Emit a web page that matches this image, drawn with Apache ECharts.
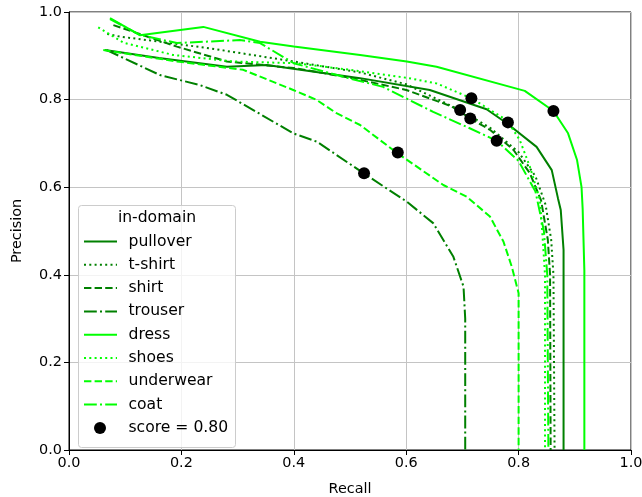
<!DOCTYPE html>
<html><head><meta charset="utf-8">
<script src="https://cdn.jsdelivr.net/npm/echarts@6/dist/echarts.min.js"></script>
<style>html,body{margin:0;padding:0;background:#fff;overflow:hidden}#c{width:642px;height:497px}</style>
</head><body><div id="c"></div>
<script>
const xTicks = [0, 0.2, 0.4, 0.6, 0.8, 1.0];
const yTicks = [0, 0.2, 0.4, 0.6, 0.8, 1.0];
const names = ['pullover','t-shirt','shirt','trouser','dress','shoes','underwear','coat'];
const legendTitle = 'in-domain';
const scoreLabel = 'score = 0.80';
const pullover = [[0.064,0.913],[0.16,0.895],[0.281,0.875],[0.352,0.879],[0.518,0.849],[0.642,0.822],[0.743,0.778],[0.779,0.746],[0.832,0.692],[0.859,0.639],[0.87,0.575],[0.875,0.548],[0.88,0.457],[0.88,0]];
const tshirt = [[0.068,0.95],[0.09,0.944],[0.162,0.932],[0.251,0.917],[0.4,0.887],[0.518,0.862],[0.6,0.835],[0.696,0.776],[0.75,0.735],[0.8,0.68],[0.83,0.625],[0.848,0.56],[0.858,0.48],[0.862,0.40],[0.864,0]];
const shirt = [[0.079,0.97],[0.192,0.921],[0.281,0.887],[0.4,0.872],[0.5,0.85],[0.6,0.822],[0.68,0.785],[0.714,0.757],[0.749,0.731],[0.791,0.685],[0.82,0.632],[0.84,0.57],[0.852,0.48],[0.856,0.40],[0.857,0]];
const trouser = [[0.067,0.913],[0.162,0.856],[0.233,0.833],[0.281,0.811],[0.399,0.723],[0.441,0.704],[0.524,0.632],[0.601,0.567],[0.648,0.518],[0.684,0.441],[0.702,0.373],[0.705,0.3],[0.705,0]];
const dress = [[0.073,0.986],[0.126,0.947],[0.239,0.966],[0.34,0.932],[0.40,0.921],[0.518,0.902],[0.601,0.887],[0.654,0.875],[0.811,0.82],[0.862,0.774],[0.888,0.723],[0.904,0.662],[0.912,0.60],[0.914,0.55],[0.917,0.41],[0.917,0]];
const shoes = [[0.052,0.965],[0.097,0.93],[0.185,0.902],[0.292,0.887],[0.405,0.883],[0.5,0.868],[0.6,0.85],[0.654,0.837],[0.716,0.803],[0.779,0.753],[0.802,0.708],[0.82,0.647],[0.838,0.571],[0.843,0.48],[0.847,0.40],[0.847,0]];
const underwear = [[0.061,0.913],[0.192,0.887],[0.31,0.868],[0.399,0.822],[0.441,0.799],[0.476,0.769],[0.518,0.742],[0.585,0.677],[0.666,0.605],[0.708,0.578],[0.749,0.533],[0.773,0.476],[0.788,0.418],[0.8,0.358],[0.8,0]];
const coat = [[0.073,0.984],[0.126,0.948],[0.192,0.929],[0.304,0.936],[0.34,0.929],[0.4,0.883],[0.5,0.848],[0.559,0.829],[0.648,0.772],[0.714,0.734],[0.761,0.706],[0.8,0.66],[0.83,0.59],[0.845,0.5],[0.851,0.40],[0.853,0]];
const scoreDots = [[0.862,0.774],[0.716,0.803],[0.781,0.748],[0.696,0.776],[0.714,0.757],[0.761,0.706],[0.585,0.679],[0.525,0.632]];

const curves = [pullover, tshirt, shirt, trouser, dress, shoes, underwear, coat];
const DARK = '#008000', LIME = '#00ff00';
const colors = [DARK, DARK, DARK, DARK, LIME, LIME, LIME, LIME];
const dashes = ['solid', [2,3.3], [7.4,3.2], [12.8,3.2,2,3.2], 'solid', [2,3.3], [7.4,3.2], [12.8,3.2,2,3.2]];
const FONT = 'DejaVu Sans';
const FS = 14.4;
const LFS = 15.6;

const series = curves.map((d, i) => ({
  name: names[i], type: 'line', data: d, symbol: 'none', showSymbol: false,
  lineStyle: { color: colors[i], width: 2, type: dashes[i] },
  itemStyle: { color: colors[i] }, z: 2 + i, animation: false
}));
series.push({
  name: scoreLabel, type: 'scatter', data: scoreDots, symbol: 'circle', symbolSize: 12,
  itemStyle: { color: '#000', opacity: 1 }, z: 20, animation: false
});

// manual legend (matplotlib style)
const legX = 78.5, legY = 205.5, legW = 157, legH = 242;
const rowY0 = 241.5, rowStep = 23.3;
const lfont = LFS + 'px "DejaVu Sans"';
const graphics = [
  { type: 'rect', shape: { x: legX, y: legY, width: legW, height: legH, r: 3 }, style: { fill: 'rgba(255,255,255,0.8)', stroke: '#cccccc', lineWidth: 1 }, z: 25 },
  { type: 'text', x: legX + legW / 2, y: 218, style: { text: legendTitle, font: lfont, fill: '#000', textAlign: 'center', textVerticalAlign: 'middle' }, z: 30 }
];
names.forEach((n, i) => {
  const y = rowY0 + i * rowStep;
  graphics.push({ type: 'line', shape: { x1: 84, y1: y, x2: 117, y2: y }, style: { stroke: colors[i], lineWidth: 2, lineDash: dashes[i] === 'solid' ? null : dashes[i] }, z: 30 });
  graphics.push({ type: 'text', x: 128.5, y: y, style: { text: n, font: lfont, fill: '#000', textVerticalAlign: 'middle' }, z: 30 });
});
{
  const y = rowY0 + 8 * rowStep;
  graphics.push({ type: 'circle', shape: { cx: 100, cy: y, r: 6 }, style: { fill: '#000' }, z: 30 });
  graphics.push({ type: 'text', x: 128.5, y: y, style: { text: scoreLabel, font: lfont, fill: '#000', textVerticalAlign: 'middle' }, z: 30 });
}

const chart = echarts.init(document.getElementById('c'), null, { renderer: 'canvas', width: 642, height: 497 });
chart.setOption({
  animation: false,
  backgroundColor: '#fff',
  textStyle: { fontFamily: FONT },
  grid: { left: 69, top: 12, width: 562, height: 438, outerBoundsMode: 'none', containLabel: false, show: true, borderColor: '#000', borderWidth: 1, backgroundColor: 'transparent' },
  xAxis: {
    type: 'value', min: 0, max: 1, interval: 0.2,
    name: 'Recall', nameLocation: 'middle', nameGap: 32,
    nameTextStyle: { fontFamily: FONT, fontSize: FS, color: '#000' },
    axisLine: { show: true, onZero: false, lineStyle: { color: '#000', width: 1 } },
    axisTick: { show: true, inside: false, length: 5, lineStyle: { color: '#000' } },
    axisLabel: { fontFamily: FONT, fontSize: FS, color: '#000', margin: 6, formatter: v => { const t = xTicks.find(k => Math.abs(k - v) < 1e-9); return t === undefined ? '' : t.toFixed(1); } },
    splitLine: { show: true, lineStyle: { color: '#c4c4c4', width: 1 } }
  },
  yAxis: {
    type: 'value', min: 0, max: 1, interval: 0.2,
    name: 'Precision', nameLocation: 'middle', nameGap: 45, nameRotate: 90,
    nameTextStyle: { fontFamily: FONT, fontSize: FS, color: '#000' },
    axisLine: { show: true, onZero: false, lineStyle: { color: '#000', width: 1 } },
    axisTick: { show: true, inside: false, length: 5, lineStyle: { color: '#000' } },
    axisLabel: { fontFamily: FONT, fontSize: FS, color: '#000', margin: 7, formatter: v => { const t = yTicks.find(k => Math.abs(k - v) < 1e-9); return t === undefined ? '' : t.toFixed(1); } },
    splitLine: { show: true, lineStyle: { color: '#c4c4c4', width: 1 } }
  },
  graphic: graphics,
  series: series
});
</script></body></html>
